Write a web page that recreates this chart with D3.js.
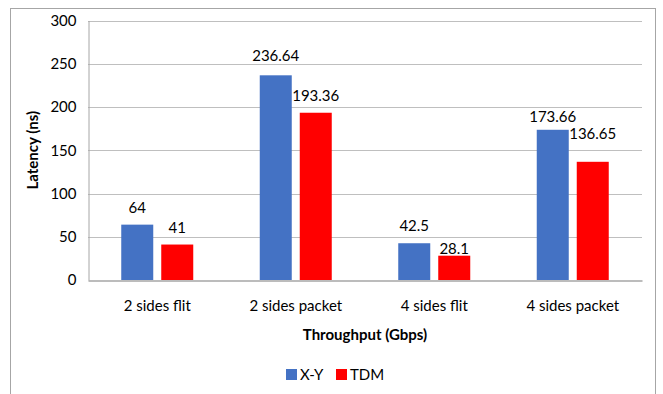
<!DOCTYPE html>
<html>
<head>
<meta charset="utf-8">
<script src="https://cdn.jsdelivr.net/npm/d3@7"></script>
<style>
  html, body { margin: 0; padding: 0; background: #fff; }
  svg { display: block; font-family: Lato, "Open Sans", sans-serif; }
</style>
</head>
<body>
<svg id="chart" width="663" height="394"></svg>
<script>
// Latency per configuration, two routing schemes
const categories = ["2 sides flit", "2 sides packet", "4 sides flit", "4 sides packet"];
const seriesNames = ["X-Y", "TDM"];
const xyValues = [64, 236.64, 42.5, 173.66];
const tdmValues = [41, 193.36, 28.1, 136.65];
const yTicks = [0, 50, 100, 150, 200, 250, 300];

// Vertical nudges (px) for value labels, per series then category
const labelNudge = [[0, -2, 0, 4], [0, 0, 10, -11]];

const colors = ["#4472C4", "#FF0000"];
const svg = d3.select("#chart");

const plot = { left: 88, right: 642, top: 20.5, bottom: 280 };

// outer frame
svg.append("rect")
  .attr("x", 10.5).attr("y", 8.5)
  .attr("width", 645).attr("height", 400)
  .attr("fill", "none").attr("stroke", "#a6a6a6").attr("stroke-width", 1);

const x = d3.scaleBand().domain(categories).range([plot.left, plot.right]);
const y = d3.scaleLinear().domain([0, 300]).range([plot.bottom, plot.top]);

// bars within a category: 32px wide with an 8px gap, centred on the band
const barW = 32, barGap = 8;
const inner = d3.scaleBand().domain(seriesNames)
  .range([-(barW + barGap / 2), barW + barGap / 2])
  .paddingInner(barGap / (barW + barGap));

// gridlines
svg.append("g")
  .selectAll("line").data(yTicks.filter(t => t > 0)).join("line")
  .attr("x1", plot.left).attr("x2", plot.right)
  .attr("y1", d => Math.round(y(d)) + 0.5).attr("y2", d => Math.round(y(d)) + 0.5)
  .attr("stroke", "#bfbfbf").attr("stroke-width", 1);

// y axis
const yAxis = svg.append("g")
  .attr("transform", `translate(${plot.left + 0.5},0)`)
  .call(d3.axisLeft(y).tickValues(yTicks).tickSize(0).tickPadding(12));
yAxis.select(".domain").attr("stroke", "#a6a6a6");
yAxis.selectAll("text").attr("font-size", 15).attr("fill", "#000").attr("font-family", "Lato, sans-serif");

// x axis
const xAxis = svg.append("g")
  .attr("transform", `translate(0,${Math.round(plot.bottom) + 0.5})`)
  .call(d3.axisBottom(x).tickSize(0).tickPadding(20));
xAxis.select(".domain").attr("stroke", "#a6a6a6").attr("stroke-width", 1.5);
xAxis.selectAll("text").attr("font-size", 15).attr("fill", "#000").attr("font-family", "Lato, sans-serif");

// bars and value labels
const series = [xyValues, tdmValues];
series.forEach((vals, si) => {
  const g = svg.append("g");
  const bx = c => x(c) + x.bandwidth() / 2 + inner(seriesNames[si]);
  g.selectAll("rect").data(categories).join("rect")
    .attr("x", c => bx(c))
    .attr("y", (c, i) => y(vals[i]))
    .attr("width", inner.bandwidth())
    .attr("height", (c, i) => y(0) - y(vals[i]))
    .attr("fill", colors[si]);
  g.selectAll("text").data(categories).join("text")
    .attr("x", c => bx(c) + inner.bandwidth() / 2)
    .attr("y", (c, i) => y(vals[i]) - 12 + labelNudge[si][i])
    .attr("text-anchor", "middle")
    .attr("font-size", 15).attr("fill", "#000")
    .text((c, i) => vals[i]);
});

// axis titles
svg.append("text")
  .attr("x", (plot.left + plot.right) / 2).attr("y", 340)
  .attr("text-anchor", "middle").attr("font-size", 15).attr("font-weight", "bold")
  .text("Throughput (Gbps)");
svg.append("text")
  .attr("transform", `translate(38,${(plot.top + plot.bottom) / 2}) rotate(-90)`)
  .attr("text-anchor", "middle").attr("font-size", 15).attr("font-weight", "bold")
  .text("Latency (ns)");

// legend
const legend = svg.append("g");
const legendX = [286, 336];
seriesNames.forEach((name, i) => {
  legend.append("rect")
    .attr("x", legendX[i]).attr("y", 369).attr("width", 11).attr("height", 11)
    .attr("fill", colors[i]);
  legend.append("text")
    .attr("x", legendX[i] + 14).attr("y", 380)
    .attr("font-size", 15).attr("fill", "#000")
    .text(name);
});
</script>
</body>
</html>
